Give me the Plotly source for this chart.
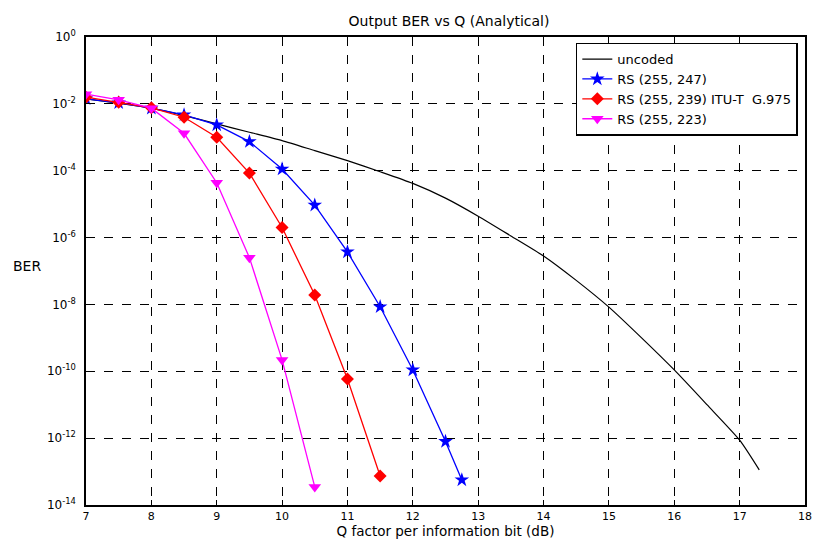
import plotly.graph_objects as go

# ---- data (log10 BER) ----
q_uncoded = [7, 7.5, 8, 8.5, 9, 9.5, 10, 10.5, 11, 11.5, 12, 12.5, 13, 13.5, 14, 14.5, 15, 15.5, 16, 16.5, 17, 17.3]
log_uncoded = [-1.85, -1.98, -2.13, -2.35, -2.6, -2.85, -3.1, -3.4, -3.7, -4.03, -4.38, -4.82, -5.36, -5.95,
               -6.55, -7.28, -8.08, -9.0, -9.96, -11.0, -12.06, -12.95]

q_247 = [7, 7.5, 8, 8.5, 9, 9.5, 10, 10.5, 11, 11.5, 12, 12.5, 12.75]
log_247 = [-1.85, -1.97, -2.13, -2.33, -2.63, -3.13, -3.95, -5.03, -6.43, -8.07, -9.96, -12.1, -13.25]

q_239 = [7, 7.5, 8, 8.5, 9, 9.5, 10, 10.5, 11, 11.5]
log_239 = [-1.8, -1.95, -2.12, -2.4, -3.0, -4.07, -5.7, -7.72, -10.23, -13.13]

q_223 = [7, 7.5, 8, 8.5, 9, 9.5, 10, 10.5]
log_223 = [-1.71, -1.88, -2.13, -2.88, -4.36, -6.6, -9.66, -13.46]

y_tick_exp = [0, -2, -4, -6, -8, -10, -12, -14]
x_ticks = list(range(7, 19))

names = ["uncoded", "RS (255, 247)", "RS (255, 239) ITU-T  G.975", "RS (255, 223)"]


def to_ber(logs):
    return [10 ** v for v in logs]


FAM = "DejaVu Sans, Verdana, sans-serif"
font = dict(family=FAM, size=12, color="black")

fig = go.Figure()
fig.add_trace(go.Scatter(x=q_uncoded, y=to_ber(log_uncoded), mode="lines", name=names[0],
                         line=dict(color="black", width=1.2, shape="spline", smoothing=0.6)))
fig.add_trace(go.Scatter(x=q_247, y=to_ber(log_247), mode="lines+markers", name=names[1],
                         line=dict(color="#0000ff", width=1.3),
                         marker=dict(symbol="star", size=11, color="#0000ff")))
fig.add_trace(go.Scatter(x=q_239, y=to_ber(log_239), mode="lines+markers", name=names[2],
                         line=dict(color="#ff0000", width=1.3),
                         marker=dict(symbol="diamond", size=10, color="#ff0000")))
fig.add_trace(go.Scatter(x=q_223, y=to_ber(log_223), mode="lines+markers", name=names[3],
                         line=dict(color="#ff00ff", width=1.3),
                         marker=dict(symbol="triangle-down", size=11, color="#ff00ff")))

fig.update_layout(
    width=818, height=541,
    margin=dict(l=86, r=6, t=37, b=36),
    paper_bgcolor="white", plot_bgcolor="white",
    font=font,
    title=dict(text="Output BER vs Q (Analytical)", x=(86 + 812) / 2 / 818, xanchor="center",
               y=1 - 21 / 541, yanchor="middle", font=dict(size=14, family=FAM)),
    showlegend=True,
    legend=dict(x=0.99, y=0.988, xanchor="right", yanchor="top", bgcolor="white",
                bordercolor="black", borderwidth=1.5, font=dict(size=13, family=FAM), tracegroupgap=0,
                itemwidth=30),
    xaxis=dict(range=[7, 18], tickvals=x_ticks, ticktext=[str(v) for v in x_ticks],
               tickfont=dict(size=11),
               showgrid=True, gridcolor="black", griddash="dash", gridwidth=1,
               showline=True, linecolor="black", linewidth=1.5, mirror=True,
               ticks="inside", ticklen=5, tickcolor="black", zeroline=False,
               title=dict(text="Q factor per information bit (dB)", standoff=2, font=dict(size=13.5))),
    yaxis=dict(type="log", range=[-14, 0],
               tickvals=[10 ** e for e in y_tick_exp],
               ticktext=["10<sup>%d</sup>" % e for e in y_tick_exp],
               tickfont=dict(size=12),
               showgrid=True, gridcolor="black", griddash="dash", gridwidth=1,
               showline=True, linecolor="black", linewidth=1.5, mirror=True,
               ticks="inside", ticklen=5, tickcolor="black", zeroline=False,
               ticklabelstandoff=6),
    annotations=[dict(text="BER", xref="paper", yref="paper",
                      x=(10 - 86) / 726, y=(505 - 266) / 468,
                      xanchor="left", yanchor="middle", showarrow=False, font=dict(size=14))],
)

fig.write_html("out.html")
